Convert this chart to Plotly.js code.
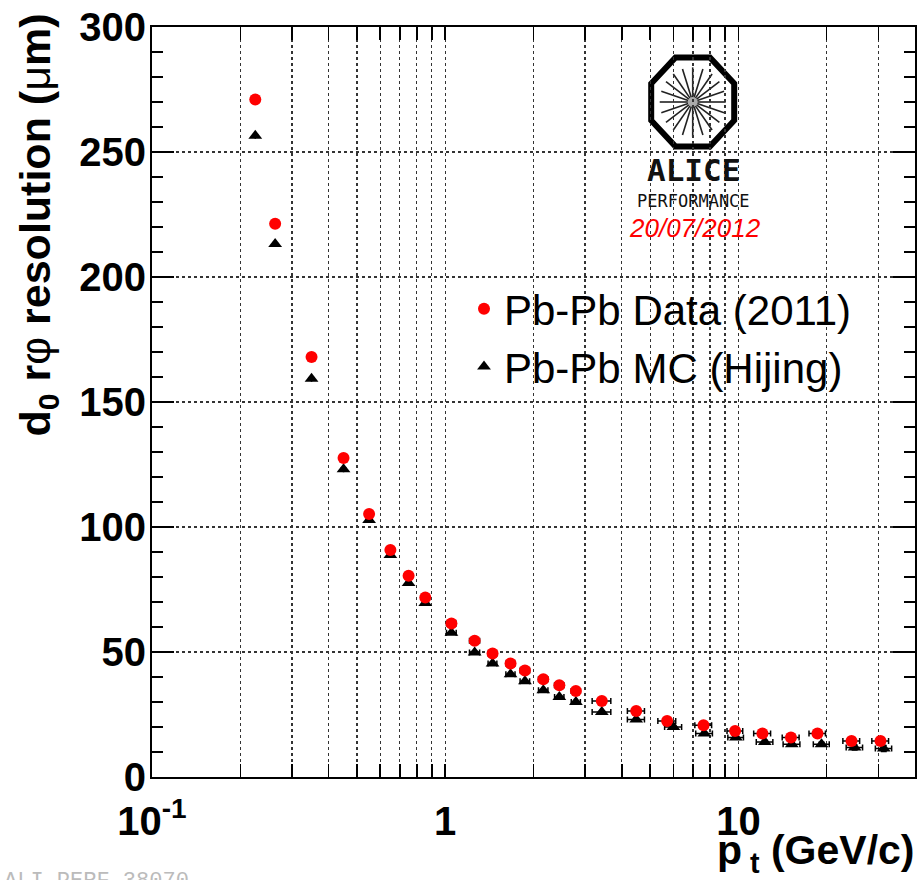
<!DOCTYPE html>
<html>
<head>
<meta charset="utf-8">
<script src="https://cdn.plot.ly/plotly-3.0.1.min.js"></script>
<style>html,body{margin:0;padding:0;background:#fff;}#chart{width:921px;height:880px;}</style>
</head>
<body>
<div id="chart"></div>
<script>
// ---- data ----
const ptData  = [0.225,0.263,0.35,0.45,0.55,0.65,0.75,0.855,1.05,1.26,1.45,1.67,1.87,2.16,2.45,2.79,3.42,4.48,5.71,7.6,9.74,12.07,15.1,18.6,24.3,30.5];
const resData = [271,221.3,168,127.6,105.2,90.8,80.5,71.8,61.4,54.5,49.4,45.4,42.6,39.1,36.7,34.4,30.4,26.4,22.4,20.7,18.4,17.4,15.8,17.4,14.4,14.4];
const errXData = [0,0,0,0,0,0,0,0,0.04,0.05,0.05,0.06,0.07,0.08,0.09,0.1,0.25,0.3,0.4,0.5,0.6,0.8,1.0,1.2,1.6,2.0];
const errYData = [0.5,0.5,0.5,0.5,0.5,0.5,0.5,0.5,0.5,0.5,0.5,0.5,0.5,0.5,0.5,0.5,0.6,0.6,0.7,0.8,0.8,0.9,1.0,1.0,1.2,1.5];

const ptMC  = [0.225,0.263,0.35,0.45,0.55,0.65,0.75,0.855,1.05,1.26,1.45,1.67,1.87,2.16,2.45,2.79,3.42,4.48,6.0,7.65,9.8,12.3,15.2,19.2,24.9,31.3];
const resMC = [256.5,213.2,159.3,123.1,102.8,88.8,77.6,69.6,57.7,49.8,45.4,41.1,38.3,34.7,32.0,30.0,26.0,23.0,20.0,17.4,15.8,14.0,13.1,13.1,11.8,11.4];
const errXMC = [0,0,0,0,0,0,0,0,0.04,0.05,0.05,0.06,0.07,0.08,0.09,0.1,0.25,0.3,0.4,0.5,0.6,0.8,1.0,1.2,1.6,2.0];
const errYMC = [0.4,0.4,0.4,0.4,0.4,0.4,0.4,0.4,0.4,0.4,0.4,0.4,0.4,0.4,0.4,0.4,0.5,0.5,0.6,0.6,0.7,0.7,0.8,0.8,1.0,1.2];

const xGridVals = [0.1,0.2,0.3,0.4,0.5,0.6,0.7,0.8,0.9,1,2,3,4,5,6,7,8,9,10,20,30,40];
const xMajorVals = [0.1,1,10];
const xMajorText = ['10<sup>-1</sup>','1','10'];
const yTickVals = [0,50,100,150,200,250,300];

const seriesNames = ['Pb-Pb Data (2011)','Pb-Pb MC (Hijing)'];

// ---- geometry helpers (paper coords for decorations) ----
const L=152, T=27, W=763, H=750;
const px = x => (x-L)/W;
const py = y => (T+H-y)/H;

const xText = xGridVals.map(v => { const i = xMajorVals.indexOf(v); return i>=0 ? xMajorText[i] : ''; });

const traces = [
  {
    x: ptMC, y: resMC, type:'scatter', mode:'markers', name: seriesNames[1], legendrank: 2,
    marker:{symbol:'triangle-up', size:12, color:'#000'},
    error_x:{type:'data', array: errXMC, color:'#000', thickness:1.5, width:3},
    error_y:{type:'data', array: errYMC, color:'#000', thickness:1.5, width:3},
    xaxis:'x', yaxis:'y'
  },
  {
    x: ptData, y: resData, type:'scatter', mode:'markers', name: seriesNames[0], legendrank: 1,
    marker:{symbol:'circle', size:12, color:'#ff0000'},
    error_x:{type:'data', array: errXData, color:'#000', thickness:1.5, width:3},
    error_y:{type:'data', array: errYData, color:'#000', thickness:1.5, width:3},
    xaxis:'x', yaxis:'y'
  }
];

// ---- ALICE logo shapes ----
const shapes = [];
shapes.push({type:'rect', xref:'paper', yref:'paper', x0:px(635), x1:px(752), y0:py(208), y1:py(53),
  fillcolor:'#fff', line:{width:0}, layer:'between'});
const cx=692.7, cy=102, ax=41.5, ay=44.5;
let path='';
for(let k=0;k<8;k++){
  const a = (22.5 + 45*k)*Math.PI/180;
  const vx = cx + ax/Math.cos(Math.PI/8)*Math.cos(a);
  const vy = cy - ay/Math.cos(Math.PI/8)*Math.sin(a);
  path += (k===0?'M ':' L ') + px(vx).toFixed(5) + ',' + py(vy).toFixed(5);
}
path += ' Z';
shapes.push({type:'path', xref:'paper', yref:'paper', path:path, line:{color:'#000', width:6}, fillcolor:'rgba(0,0,0,0)', layer:'between'});
for(let k=0;k<20;k++){
  const a = k*18*Math.PI/180;
  const r0=4, r1=33;
  shapes.push({type:'line', xref:'paper', yref:'paper',
    x0:px(cx + r0*Math.cos(a)), y0:py(cy - r0*Math.sin(a)*1.05),
    x1:px(cx + r1*Math.cos(a)), y1:py(cy - r1*Math.sin(a)*1.05),
    line:{color:'#222', width:1.6}, layer:'between'});
}
shapes.push({type:'circle', xref:'paper', yref:'paper', x0:px(cx-5), x1:px(cx+5), y0:py(cy+5), y1:py(cy-5),
  fillcolor:'#aaa', line:{width:0}, layer:'between'});

const annotations = [
  {text:'ALICE', xref:'paper', yref:'paper', x:px(693), y:py(170), xanchor:'center', yanchor:'middle', showarrow:false,
   font:{family:'DejaVu Sans Mono', size:31, color:'#111', weight:'bold'}},
  {text:'PERFORMANCE', xref:'paper', yref:'paper', x:px(693), y:py(201), xanchor:'center', yanchor:'middle', showarrow:false,
   font:{family:'DejaVu Sans Mono', size:17, color:'#111'}},
  {text:'20/07/2012', xref:'paper', yref:'paper', x:px(695), y:py(228), xanchor:'center', yanchor:'middle', showarrow:false,
   font:{family:'Liberation Sans', size:26, color:'#ff0000', style:'italic'}},
  {text:'d<sub>0</sub> r<span style="font-weight:normal">φ</span> resolution (<span style="font-weight:normal">μ</span>m)',
   xref:'paper', yref:'paper', x:px(37), y:py(12), xanchor:'center', yanchor:'top', textangle:-90, showarrow:false,
   font:{family:'Liberation Sans', size:43, color:'#000', weight:'bold'}},
  {text:'p<sub>&nbsp;t</sub>&nbsp;(GeV/c)', xref:'paper', yref:'paper', x:px(917), y:py(853), xanchor:'right', yanchor:'middle', showarrow:false,
   font:{family:'Liberation Sans', size:41, color:'#000', weight:'bold'}},
  {text:'ALI-PERF-38070', xref:'paper', yref:'paper', x:px(2), y:py(867), xanchor:'left', yanchor:'top', showarrow:false,
   font:{family:'Liberation Mono', size:22, color:'#bbbbbb'}}
];

const layout = {
  width:921, height:880,
  margin:{l:L, r:921-L-W, t:T, b:880-T-H, pad:0},
  paper_bgcolor:'#fff', plot_bgcolor:'#fff',
  showlegend:true,
  legend:{x:px(464), y:py(275), xanchor:'left', yanchor:'top', bgcolor:'rgba(0,0,0,0)', borderwidth:0,
    font:{family:'Liberation Sans', size:42, color:'#000'}, tracegroupgap:0, itemsizing:'trace'},
  xaxis:{
    type:'log', range:[Math.log10(0.1), Math.log10(40)], autorange:false,
    tickmode:'array', tickvals:xGridVals, ticktext:xText,
    ticks:'inside', ticklen:13, tickwidth:1.5, tickcolor:'#000',
    showline:true, linecolor:'#000', linewidth:2, mirror:'ticks',
    showgrid:true, gridcolor:'#333', griddash:'dot', gridwidth:1.3,
    zeroline:false, ticklabelstandoff:8,
    tickfont:{family:'Liberation Sans', size:40, color:'#000', weight:'bold'}
  },
  xaxis2:{
    type:'log', range:[Math.log10(0.1), Math.log10(40)], autorange:false,
    overlaying:'x', anchor:'y', side:'bottom',
    tickmode:'array', tickvals:xMajorVals, showticklabels:false,
    ticks:'inside', ticklen:23, tickwidth:1.5, tickcolor:'#000',
    showline:false, mirror:'ticks', showgrid:false, zeroline:false
  },
  yaxis:{
    range:[0,300], autorange:false,
    tickmode:'array', tickvals:yTickVals,
    ticks:'inside', ticklen:22, tickwidth:1.5, tickcolor:'#000',
    minor:{dtick:10, tick0:0, ticks:'inside', ticklen:11, tickwidth:1.5, tickcolor:'#000', showgrid:false},
    showline:true, linecolor:'#000', linewidth:2, mirror:'ticks',
    showgrid:true, gridcolor:'#333', griddash:'dot', gridwidth:1.3,
    zeroline:false, ticklabelstandoff:-4,
    tickfont:{family:'Liberation Sans', size:40, color:'#000', weight:'bold'}
  },
  shapes:shapes,
  annotations:annotations
};

Plotly.newPlot('chart', traces, layout, {displayModeBar:false, staticPlot:true});
</script>
</body>
</html>
